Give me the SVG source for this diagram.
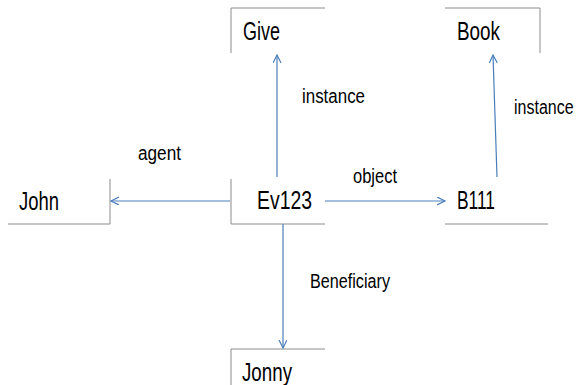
<svg xmlns="http://www.w3.org/2000/svg" width="577" height="385" viewBox="0 0 577 385">
<style>
.b{stroke:#8c8c8c;stroke-width:1;fill:none}
.n{font-family:"Liberation Sans",Arial,sans-serif;font-size:25px;fill:#000}
.l{font-family:"Liberation Sans",Arial,sans-serif;font-size:20px;fill:#000}
.c{stroke:#4a7ebb;stroke-width:1.2;fill:none;marker-end:url(#ah)}
</style>
<defs>
<marker id="ah" markerWidth="10" markerHeight="10" refX="8" refY="4" orient="auto" markerUnits="userSpaceOnUse">
<path d="M0,0 L8,4 L0,8" fill="none" stroke="#4a7ebb" stroke-width="1.2"/>
</marker>
</defs>
<rect width="577" height="385" fill="#fff"/>
<g id="give"><path class="b" d="M231,53 V8 H325"/><text class="n" x="243" y="40" textLength="37" lengthAdjust="spacingAndGlyphs">Give</text></g>
<g id="book"><path class="b" d="M445,8 H540 V53"/><text class="n" x="457" y="40" textLength="43" lengthAdjust="spacingAndGlyphs">Book</text></g>
<g id="john"><path class="b" d="M110,179 V224 H8"/><text class="n" x="19" y="210" textLength="40" lengthAdjust="spacingAndGlyphs">John</text></g>
<g id="ev123"><path class="b" d="M231,179 V224 H325"/><text class="n" x="257" y="209" textLength="55" lengthAdjust="spacingAndGlyphs">Ev123</text></g>
<g id="b111"><path class="b" d="M445,224 H548"/><text class="n" x="457" y="209" textLength="38" lengthAdjust="spacingAndGlyphs">B111</text></g>
<g id="jonny"><path class="b" d="M231,385 V349 H325"/><text class="n" x="242" y="381" textLength="50" lengthAdjust="spacingAndGlyphs">Jonny</text></g>
<g id="connectors">
<line class="c" x1="277" y1="177" x2="277" y2="55"/>
<line class="c" x1="497" y1="177" x2="493" y2="55"/>
<line class="c" x1="230" y1="201" x2="111" y2="201"/>
<line class="c" x1="325" y1="201" x2="445" y2="201"/>
<line class="c" x1="283" y1="224" x2="283" y2="348"/>
<text class="l" x="302" y="103" textLength="63" lengthAdjust="spacingAndGlyphs">instance</text>
<text class="l" transform="translate(514,114) scale(0.8,1)" x="0" y="0">instance</text>
<text class="l" x="138" y="160" textLength="43" lengthAdjust="spacingAndGlyphs">agent</text>
<text class="l" x="353" y="183" textLength="44" lengthAdjust="spacingAndGlyphs">object</text>
<text class="l" x="310" y="288" textLength="80" lengthAdjust="spacingAndGlyphs">Beneficiary</text>
</g>
</svg>
